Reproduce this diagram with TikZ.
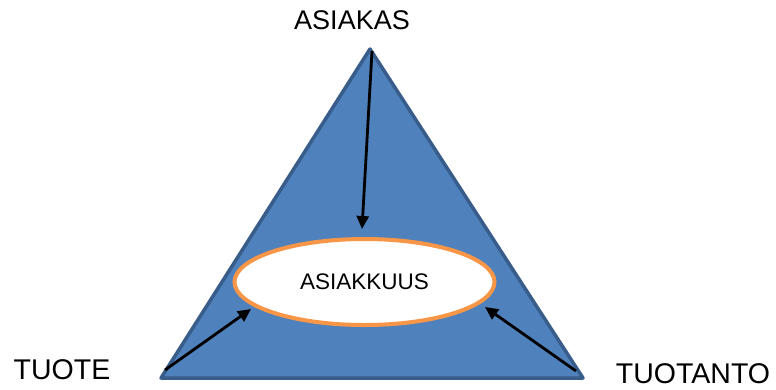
\documentclass[tikz,border=0pt]{standalone}
\usepackage{fontspec}
\setmainfont{Liberation Sans}
\usetikzlibrary{arrows.meta,shapes.geometric}
\definecolor{triFill}{HTML}{4F81BD}
\definecolor{triLine}{HTML}{385D8A}
\definecolor{ellLine}{HTML}{F79646}
\begin{document}
\begin{tikzpicture}[x=1pt,y=-1pt,
  lbl/.style={font=\fontsize{27}{30}\selectfont, inner sep=0pt, anchor=center},
  lblb/.style={lbl, font=\fontsize{28.5}{31}\selectfont},
  arr/.style={line width=2.8pt, -{Triangle[length=13pt,width=12pt]}},
]
\useasboundingbox (0,0) rectangle (776,389);
% triangle
\coordinate (apex) at (370,49);
\coordinate (bl) at (161,378);
\coordinate (br) at (583,378);
\draw[fill=triFill, draw=triLine, line width=3.5pt, line join=round] (apex) -- (br) -- (bl) -- cycle;
% ellipse
\node[ellipse, draw=ellLine, fill=white, line width=4pt, minimum width=260pt, minimum height=86pt, inner sep=0pt,
      font=\fontsize{22.5}{26}\selectfont] (ell) at (364.5,282) {ASIAKKUUS};
% labels
\node[lbl] (asiakas) at (352,20) {ASIAKAS};
\node[lblb] (tuote) at (62,370) {TUOTE};
\node[lblb] (tuotanto) at (693,373.5) {TUOTANTO};
% arrow endpoints
\coordinate (s1) at (372,51);
\coordinate (t1) at (362,229);
\coordinate (s2) at (165,370);
\coordinate (t2) at (251,309);
\coordinate (s3) at (576,371);
\coordinate (t3) at (485,307);
\draw[arr] (s1) -- (t1);
\draw[arr] (s2) -- (t2);
\draw[arr] (s3) -- (t3);
\end{tikzpicture}
\end{document}
